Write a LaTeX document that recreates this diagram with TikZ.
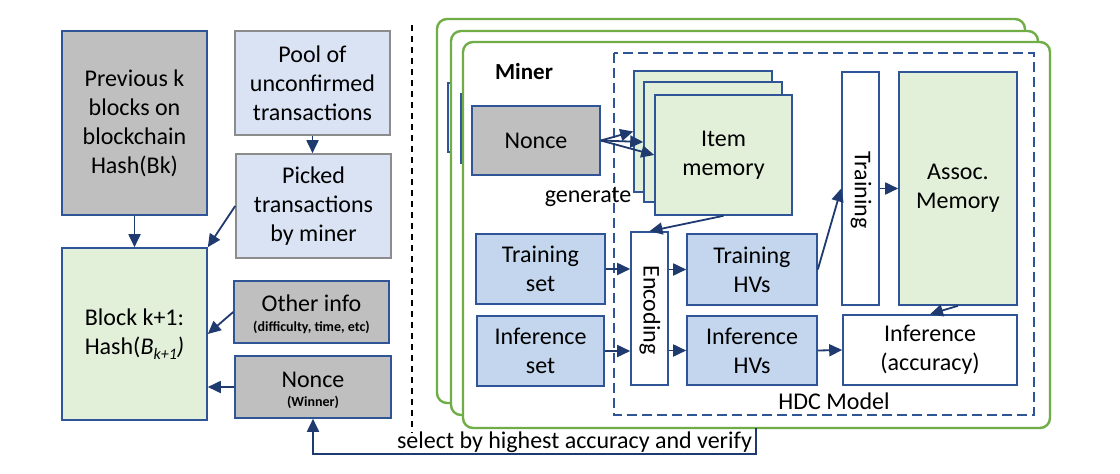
\documentclass[tikz,border=0pt]{standalone}
\usepackage{fontspec}
\setmainfont{Carlito}
\usetikzlibrary{arrows.meta}
\definecolor{bblue}{HTML}{2F5597}
\definecolor{navy}{HTML}{1F3A6E}
\definecolor{grayfill}{HTML}{BFBFBF}
\definecolor{poolfill}{HTML}{DAE3F3}
\definecolor{poolborder}{HTML}{8C8C8C}
\definecolor{setfill}{HTML}{C3D6EE}
\definecolor{lgreen}{HTML}{E2F0D9}
\definecolor{framegreen}{HTML}{70AD47}
\tikzset{
  bx/.style={draw=bblue, line width=1.6pt, inner sep=0pt, align=center,
    font=\fontsize{24}{29}\selectfont},
  graybx/.style={bx, fill=grayfill},
  poolbx/.style={bx, fill=poolfill, draw=poolborder},
  greenbx/.style={bx, fill=lgreen},
  setbx/.style={bx, fill=setfill},
  whitebx/.style={bx, fill=white},
  arr/.style={draw=navy, line width=1.8pt, -{Triangle[length=13pt,width=12pt]}},
  frame/.style={draw=framegreen, line width=2.4pt, fill=white, rounded corners=10pt},
  txt/.style={inner sep=0pt, font=\fontsize{24}{29}\selectfont, align=center},
  small/.style={inner sep=0pt, font=\fontsize{14}{16}\bfseries\selectfont},
}
\begin{document}
\begin{tikzpicture}[x=1pt,y=-1pt]
\useasboundingbox (0,0) rectangle (1120,474);
\fill[white] (0,0) rectangle (1120,474);

% ---------- left part ----------
\node[graybx, minimum width=145pt, minimum height=184pt] (prev) at (134.5,123)
  {Previous k\\blocks on\\blockchain\\Hash(Bk)};
\node[poolbx, minimum width=155pt, minimum height=104pt] (pool) at (312.5,83)
  {Pool of\\unconfirmed\\transactions};
\node[poolbx, minimum width=155pt, minimum height=104pt] (picked) at (313.5,206)
  {Picked\\transactions\\by miner};
\node[greenbx, minimum width=145pt, minimum height=172pt] (block) at (134.5,334)
  {Block k+1:\\Hash(\textit{B}\raisebox{-5pt}{\fontsize{16}{16}\selectfont\textit{k+1}}\textit{)}};
\node[graybx, minimum width=155pt, minimum height=62pt] (other) at (311.5,312) {};
\node[txt] (othert) at (311.5,303) {Other info};
\node[small] (otherd) at (311.5,327) {(difficulty, time, etc)};
\node[graybx, minimum width=156pt, minimum height=62pt] (noncew) at (313,387) {};
\node[txt] (noncewt) at (313,380) {Nonce};
\node[small] (noncewd) at (313,402) {(Winner)};

\draw[arr] (pool.south) -- (pool.south |- picked.north);
\draw[arr] (prev.south) -- (block.north);
\draw[arr] (picked.west) -- (block.north east);
\draw[arr] (other.west) -- (block.east);
\draw[arr] (noncew.west) -- (noncew.west -| block.east);

\coordinate (dtop) at (412,25);
\coordinate (dbot) at (412,433);
\draw[black, line width=1.8pt, dash pattern=on 6pt off 5pt] (dtop) -- (dbot);

% ---------- miner frames ----------
\draw[frame] (437,19) rectangle (1025,403);
\draw[bblue, line width=1.6pt] (448,83) rectangle (576,152);
\draw[frame] (451,31) rectangle (1038,415);
\draw[bblue, line width=1.6pt] (461,94) rectangle (589,163);
\draw[frame] (463,42) rectangle (1050,428);

\node[inner sep=0pt, font=\fontsize{23}{27}\bfseries\selectfont] (miner) at (524,72) {Miner};

\draw[bblue, line width=1.6pt, dash pattern=on 10pt off 5pt] (614,53) rectangle (1034,415);
\node[txt] (hdc) at (834,401) {HDC Model};

% item memory stack
\node[greenbx, minimum width=138pt, minimum height=121pt] (im3) at (703,131.5) {};
\node[greenbx, minimum width=138pt, minimum height=120pt] (im2) at (713,142) {};
\node[greenbx, minimum width=137pt, minimum height=120pt] (im1) at (723.5,155) {Item\\memory};

\node[graybx, minimum width=128pt, minimum height=69pt] (nonce) at (536,140.5) {Nonce};
\draw[arr] (nonce.east) -- (im3.west);
\draw[arr] (nonce.east) -- (im2.west);
\draw[arr] (nonce.east) -- (im1.west);
\node[txt] (gen) at (588,197) {generate};

\node[whitebx, minimum width=37pt, minimum height=153pt] (enc) at (649.5,308.5) {};
\node[txt, rotate=-90] (enct) at (650,310) {Encoding};
\draw[arr] (im1.south) -- (enc.north);

\node[setbx, minimum width=129pt, minimum height=70pt] (trset) at (540.5,269) {Training\\set};
\node[setbx, minimum width=127pt, minimum height=70pt] (infset) at (540.5,351) {Inference\\set};
\node[setbx, minimum width=130pt, minimum height=71pt] (trhv) at (752,269.5) {Training\\HVs};
\node[setbx, minimum width=130pt, minimum height=69pt] (infhv) at (752,350.5) {Inference\\HVs};

\draw[arr] (trset.east) -- (trset.east -| enc.west);
\draw[arr] (infset.east) -- (infset.east -| enc.west);
\draw[arr] (trhv.west -| enc.east) -- (trhv.west);
\draw[arr] (infhv.west -| enc.east) -- (infhv.west);

\node[whitebx, minimum width=37pt, minimum height=233pt] (train) at (860.5,188.5) {};
\node[txt, rotate=-90] (traint) at (861,190) {Training};
\node[greenbx, minimum width=118pt, minimum height=233pt] (assoc) at (958,188.5) {Assoc.\\Memory};
\node[whitebx, minimum width=174pt, minimum height=70pt] (inf) at (930,350) {Inference\\(accuracy)};

\draw[arr] (trhv.east) -- (train.west);
\draw[arr] (train.east) -- (assoc.west);
\draw[arr] (assoc.south) -- (inf.north);
\draw[arr] (infhv.east) -- (inf.west);

% feedback
\coordinate (fb) at (756,428);
\draw[arr] (fb) -- ++(0,26) -| (noncew.south);
\node[txt, anchor=base] (sel) at (574.5,448) {select by highest accuracy and verify};
\end{tikzpicture}
\end{document}
